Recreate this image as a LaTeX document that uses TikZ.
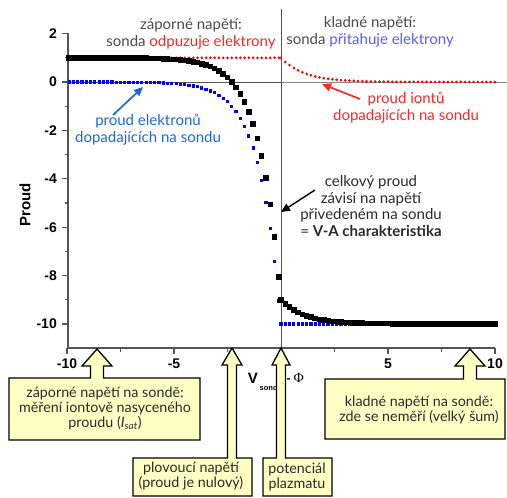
\documentclass[tikz,border=0pt]{standalone}
\usepackage{fontspec}
\setmainfont{Lato}
\newfontfamily\axisfont{Liberation Sans}
\newfontfamily\phifont{Liberation Serif}
\usetikzlibrary{arrows.meta}
\definecolor{txtgray}{HTML}{4A4A4A}
\definecolor{txtdark}{HTML}{2A2A2A}
\definecolor{notered}{HTML}{FF2626}
\definecolor{lightblue}{HTML}{5A5AFF}
\definecolor{noteblue}{HTML}{1F66DD}
\definecolor{boxfill}{HTML}{FFFFC4}
\definecolor{axgray}{HTML}{555555}
\definecolor{zerogray}{HTML}{888888}
\definecolor{ptred}{HTML}{FF0000}
\definecolor{ptblue}{HTML}{0000FF}
\tikzset{
  axisline/.style={draw=axgray, line width=1.3pt},
  ticklabel/.style={font=\axisfont\bfseries\fontsize{14}{14}\selectfont, text=black, inner sep=0pt},
  topnote/.style={font=\fontsize{15}{16.7}\selectfont, align=center, inner sep=0pt},
  boxnote/.style={font=\fontsize{14.3}{15}\selectfont, align=center, inner sep=0pt, text=txtdark},
  callout/.style={draw=black, line width=1.3pt, fill=boxfill, line join=miter},
  ptr/.style={-{Triangle[length=9pt,width=8pt]}, line width=1.7pt},
}
\begin{document}
\begin{tikzpicture}[x=1pt,y=1pt]
\useasboundingbox (0,0) rectangle (507,-498);

% zero line and vertical line at V=Phi
\draw[draw=axgray, line width=1pt] (68,-82) -- (281,-82);
\draw[draw=zerogray, line width=1pt] (281,-82) -- (507,-82);
\draw[draw=axgray, line width=0.9pt] (281,-9) -- (281,-348);

% axes
\draw[axisline] (68,-33) -- (68,-348) -- (495,-348);
\foreach \v in {2,0,-2,-4,-6,-8,-10}
  \draw[axisline] (62,{-82+24.2*\v}) -- (68,{-82+24.2*\v});
\foreach \v in {1,-1,-3,-5,-7,-9}
  \draw[axisline] (64.5,{-82+24.2*\v}) -- (68,{-82+24.2*\v});
\foreach \v [count=\k] in {2,0,-2,-4,-6,-8,-10}
  \node[ticklabel, anchor=east] (yl\k) at (57,{-82+24.2*\v}) {\v};
\foreach \v in {-10,-5,0,5,10}
  \draw[axisline] ({281+21.4*\v},-348) -- ({281+21.4*\v},-354);
\foreach \v in {-7.5,-2.5,2.5,7.5}
  \draw[axisline] ({281+21.4*\v},-348) -- ({281+21.4*\v},-351.5);
\foreach \v [count=\k] in {-10,-5,5,10}
  \node[ticklabel] (xl\k) at ({281+21.4*\v},-364) {\v};

% axis titles
\node[font=\axisfont\bfseries\fontsize{15}{15}\selectfont, rotate=90, inner sep=0pt] (ytitle) at (25,-205) {Proud};
\node[font=\axisfont\bfseries\fontsize{15}{15}\selectfont, inner sep=0pt] (xtV) at (253,-378) {V};
\node[font=\axisfont\bfseries\fontsize{7.5}{7.5}\selectfont, inner sep=0pt, anchor=west] (xtsub) at (259.5,-388) {sonda};
\node[inner sep=0pt, anchor=west] (xtphi) at (286.5,-378) {{\axisfont\bfseries\fontsize{12}{12}\selectfont -}\hspace{3pt}{\phifont\fontsize{14}{14}\selectfont Φ}};

% data
\begin{scope}[shift={(281pt,-82pt)}, x=21.4pt, y=24.2pt]
  \foreach \k in {0,...,49} {
    \pgfmathsetmacro\xx{-9.9+0.2*\k}
    \fill[ptred] (\xx,1) circle[radius=1.5pt];
  }
  \foreach \k in {0,...,50} {
    \pgfmathsetmacro\xx{0.2*\k}
    \pgfmathsetmacro\yy{exp(-\xx/1.1)}
    \fill[ptred] (\xx,\yy) circle[radius=1.5pt];
  }
  \foreach \k in {0,...,49} {
    \pgfmathsetmacro\xx{-9.9+0.2*\k}
    \pgfmathsetmacro\yy{-10*exp(\xx)}
    \fill[ptblue] (\xx,\yy) ++(-1.6pt,-1.6pt) rectangle ++(3.2pt,3.2pt);
  }
  \foreach \k in {0,...,50} {
    \pgfmathsetmacro\xx{0.2*\k}
    \fill[ptblue] (\xx,-10) ++(-1.6pt,-1.6pt) rectangle ++(3.2pt,3.2pt);
  }
  \foreach \k in {0,...,49} {
    \pgfmathsetmacro\xx{-9.9+0.2*\k}
    \pgfmathsetmacro\yy{1-10*exp(\xx)}
    \fill[black] (\xx,\yy) ++(-2.75pt,-2.75pt) rectangle ++(5.5pt,5.5pt);
  }
  \foreach \k in {0,...,50} {
    \pgfmathsetmacro\xx{0.2*\k}
    \pgfmathsetmacro\yy{exp(-\xx/1.1)-10}
    \fill[black] (\xx,\yy) ++(-2.75pt,-2.75pt) rectangle ++(5.5pt,5.5pt);
  }
\end{scope}

% top annotations
\node[topnote, text=txtgray] (negnote) at (191,-34) {záporné napětí:\\sonda \textcolor{notered}{odpuzuje elektrony}};
\node[topnote, text=txtgray] (posnote) at (370,-32) {kladné napětí:\\sonda \textcolor{lightblue}{přitahuje elektrony}};
\node[topnote, text=notered] (ionnote) at (406,-108) {proud iontů\\dopadajících na sondu};
\node[topnote, text=noteblue] (elnote) at (148,-130) {proud elektronů\\dopadajících na sondu};
\node[topnote, text=txtdark] (totnote) at (371,-206) {celkový proud\\závisí na napětí\\přivedeném na sondu\\= \textbf{V-A charakteristika}};

\coordinate (iontail) at (360,-99);
\coordinate (iontip) at (322,-84);
\coordinate (eltail) at (113,-115);
\coordinate (eltip) at (143,-87);
\coordinate (tottail) at (315,-190);
\coordinate (tottip) at (281,-212);
\draw[ptr, draw=notered, fill=notered] (iontail) -- (iontip);
\draw[ptr, draw=noteblue, fill=noteblue] (eltail) -- (eltip);
\draw[ptr, draw=black, fill=black, line width=1.4pt] (tottail) -- (tottip);

% callouts
\draw[callout] (9,-440) -- (9,-378) -- (90.5,-378) -- (90.5,-366) -- (82,-366) -- (97,-349)
  -- (112,-366) -- (103.5,-366) -- (103.5,-378) -- (200,-378) -- (200,-440) -- cycle;
\draw[callout] (133,-496) -- (133,-458) -- (227.5,-458) -- (227.5,-365) -- (222,-365) -- (232,-348)
  -- (242,-365) -- (236.5,-365) -- (236.5,-458) -- (252,-458) -- (252,-496) -- cycle;
\draw[callout] (263,-496) -- (263,-458) -- (276.5,-458) -- (276.5,-365) -- (272,-365) -- (281,-348)
  -- (290,-365) -- (285.5,-365) -- (285.5,-458) -- (332,-458) -- (332,-496) -- cycle;
\draw[callout] (325,-439) -- (325,-379) -- (463.5,-379) -- (463.5,-366) -- (455,-366) -- (470,-349)
  -- (485,-366) -- (476.5,-366) -- (476.5,-379) -- (505,-379) -- (505,-439) -- cycle;

\node[boxnote] (satnote) at (105,-408) {záporné napětí na sondě:\\měření iontově nasyceného\\proudu ({\itshape I}\textsubscript{\itshape sat})};
\node[boxnote] (floatnote) at (191,-476.5) {plovoucí napětí\\(proud je nulový)};
\node[boxnote] (plasmanote) at (297,-476.5) {potenciál\\plazmatu};
\node[boxnote] (noisenote) at (419,-410) {kladné napětí na sondě:\\zde se neměří (velký šum)};
\end{tikzpicture}
\end{document}
